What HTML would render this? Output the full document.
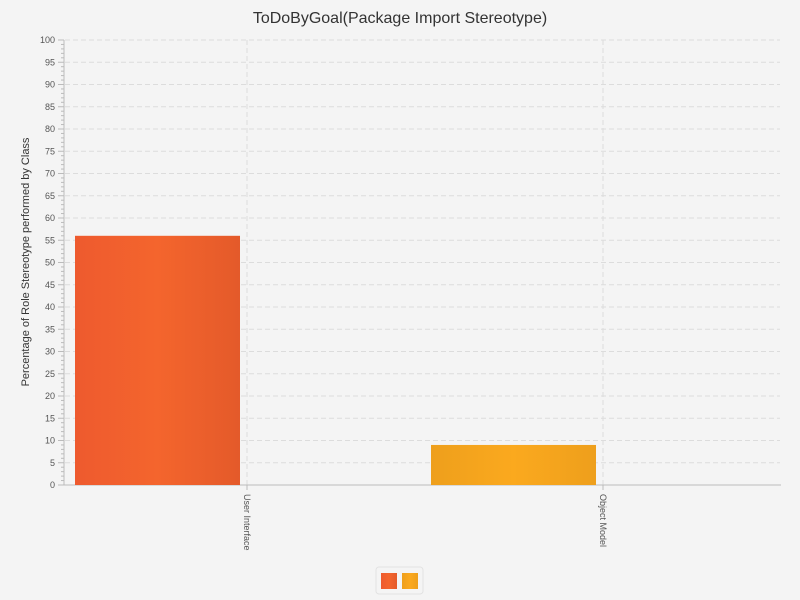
<!DOCTYPE html>
<html><head><meta charset="utf-8"><style>
body{margin:0;background:#f4f4f4;font-family:"Liberation Sans",sans-serif}
svg{display:block}
</style></head><body>
<svg id="chart" width="800" height="600">
<defs>
<linearGradient id="g0" x1="0" x2="1"><stop offset="0" stop-color="#ee5a2e"/><stop offset="0.5" stop-color="#f4652d"/><stop offset="1" stop-color="#e45a2a"/></linearGradient>
<linearGradient id="g1" x1="0" x2="1"><stop offset="0" stop-color="#ee9f1c"/><stop offset="0.5" stop-color="#fba91e"/><stop offset="1" stop-color="#ee9f1c"/></linearGradient>
</defs>
<text x="400" y="23" text-anchor="middle" font-size="16" fill="#333">ToDoByGoal(Package Import Stereotype)</text>
<text transform="translate(29,262) rotate(-90)" text-anchor="middle" font-size="11" fill="#333">Percentage of Role Stereotype performed by Class</text>
<g id="grid"></g><g id="axes"></g><g id="bars"></g>
<rect x="376" y="567" width="47" height="27" rx="3" fill="#f4f4f4" stroke="#e2e2e2"/>
<rect x="381" y="573" width="16" height="16" fill="url(#g0)"/>
<rect x="402" y="573" width="16" height="16" fill="url(#g1)"/>
</svg>
<script>
const categories=["User Interface","Object Model"];
const values=[56,9];
const yTicks=[0,5,10,15,20,25,30,35,40,45,50,55,60,65,70,75,80,85,90,95,100];
const NS="http://www.w3.org/2000/svg";
const x0=69,x1=781,yTop=40,yBot=485,yMax=100;
const y=v=>yBot-(v/yMax)*(yBot-yTop);
const cw=(x1-x0)/categories.length;
const cx=i=>x0+cw*(i+0.5);
function mk(p,t,a){const e=document.createElementNS(NS,t);for(const k in a)e.setAttribute(k,a[k]);document.getElementById(p).appendChild(e);return e;}
yTicks.forEach(v=>{
 if(v>0){const g=mk('grid','line',{x1:65,x2:780,y1:y(v),y2:y(v),stroke:'#dcdcdc','stroke-dasharray':'5,3'});
 
 }
 mk('axes','line',{x1:58,x2:64,y1:y(v),y2:y(v),stroke:'#bbb'});
 const t=mk('axes','text',{x:55,y:y(v)+3,'text-anchor':'end','font-size':9,fill:'#555'});t.textContent=v;
 
 
});
for(let v=1;v<yMax;v++){if(v%5)mk('axes','line',{x1:61,x2:64,y1:y(v),y2:y(v),stroke:'#bbb'});}
mk('axes','line',{x1:64,x2:64,y1:yTop,y2:yBot,stroke:'#bbb'});
mk('axes','line',{x1:64,x2:781,y1:yBot,y2:yBot,stroke:'#bbb'});
categories.forEach((c,i)=>{
 const g=mk('grid','line',{x1:cx(i),x2:cx(i),y1:yTop,y2:yBot,stroke:'#dcdcdc','stroke-dasharray':'5,3'});
 
 
 mk('axes','line',{x1:cx(i),x2:cx(i),y1:yBot,y2:yBot+5,stroke:'#bbb'});
 const t=mk('axes','text',{transform:`translate(${cx(i)-3},${yBot+9}) rotate(90)`,'font-size':9,fill:'#555'});t.textContent=c;
 
 
 const b=mk('bars','rect',{x:cx(i)-172,width:165,y:y(values[i]),height:yBot-y(values[i]),fill:`url(#g${i})`});
 
 
});
</script>
</body></html>
